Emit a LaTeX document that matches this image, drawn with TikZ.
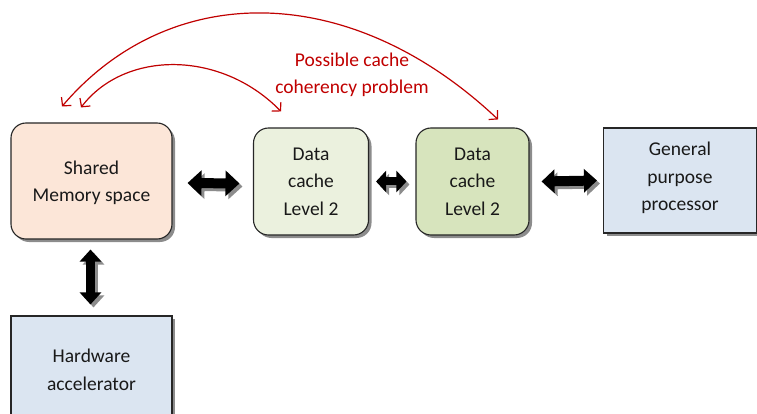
\documentclass[tikz,border=0pt]{standalone}
\usepackage{fontspec}
\setmainfont{Carlito}
\usetikzlibrary{arrows.meta,shadows,calc}
\definecolor{peach}{HTML}{FCE6D8}
\definecolor{cachelight}{HTML}{EBF1DE}
\definecolor{cachedark}{HTML}{D7E4BD}
\definecolor{procblue}{HTML}{DBE5F1}
\definecolor{alertred}{HTML}{C00000}

% thick black double-headed block arrow with a grey offset shadow
\newcommand\blockpair[5]{%
  \draw[black!45, line width=#3,
        {Triangle[width=#4,length=#5]}-{Triangle[width=#4,length=#5]},
        transform canvas={shift={(3pt,-3pt)}}] #1 -- #2;
  \draw[black, line width=#3,
        {Triangle[width=#4,length=#5]}-{Triangle[width=#4,length=#5]}] #1 -- #2;}

\begin{document}
\begin{tikzpicture}[x=1pt,y=-1pt,
  boxtext/.style={font=\fontsize{19.5}{27.5}\selectfont, align=center, text=black!90},
  unit/.style={draw=black!85, line width=1.1pt, inner sep=0pt,
    drop shadow={shadow xshift=3pt, shadow yshift=-3pt, opacity=0.45, fill=black}},
  roundunit/.style={unit, rounded corners=15pt},
  redarc/.style={draw=alertred, line width=1.2pt,
    {Straight Barb[length=6pt,width=13pt]}-{Straight Barb[length=6pt,width=13pt]}}]

\path[use as bounding box] (0,0) rectangle (757,414);
\clip (0,0) rectangle (757,414);

% memory, caches and processors
\node[roundunit, fill=peach, minimum width=161pt, minimum height=116pt]
  (sm) at (91.5,181) {};
\node[boxtext] (smtext) at (91.5,183) {Shared\\Memory space};
\node[roundunit, boxtext, fill=cachelight, minimum width=115pt, minimum height=107pt]
  (dc1) at (311,181.5) {Data\\cache\\Level 2};
\node[roundunit, boxtext, fill=cachedark, minimum width=113pt, minimum height=107pt]
  (dc2) at (472.5,181.5) {Data\\cache\\Level 2};
\node[unit, fill=procblue, minimum width=153pt, minimum height=105pt]
  (gp) at (680,180.5) {};
\node[boxtext] (gptext) at (680,178) {General\\purpose\\processor};
\node[unit, fill=procblue, minimum width=161pt, minimum height=120pt]
  (ha) at (91.5,376) {};
\node[boxtext] (hatext) at (91.5,370) {Hardware\\accelerator};

% data paths
\blockpair{($(sm.east)+(15,2)$)}{($(dc1.west)+(-13.5,2)$)}{10pt}{25pt}{14pt}
\blockpair{($(dc1.east)+(7,0)$)}{($(dc2.west)+(-9,0)$)}{8pt}{21pt}{10pt}
\blockpair{($(dc2.east)+(12,0)$)}{($(gp.west)+(-6,0)$)}{10pt}{23pt}{13pt}
\blockpair{($(sm.south)+(-1,10)$)}{($(ha.north)+(-1,-11)$)}{9pt}{21pt}{12pt}

% coherency arcs
\draw[redarc] ($(sm.north)+(-29.5,-16)$) .. controls (170,-20) and (350,-20) .. ($(dc2.north)+(25.5,-8)$);
\draw[redarc] ($(sm.north)+(-10.5,-15)$) .. controls (125,50) and (221,50) .. ($(dc1.north)+(-30,-16)$);
\node[boxtext, text=alertred] (note) at (352,75) {Possible cache\\coherency problem};

\end{tikzpicture}
\end{document}
